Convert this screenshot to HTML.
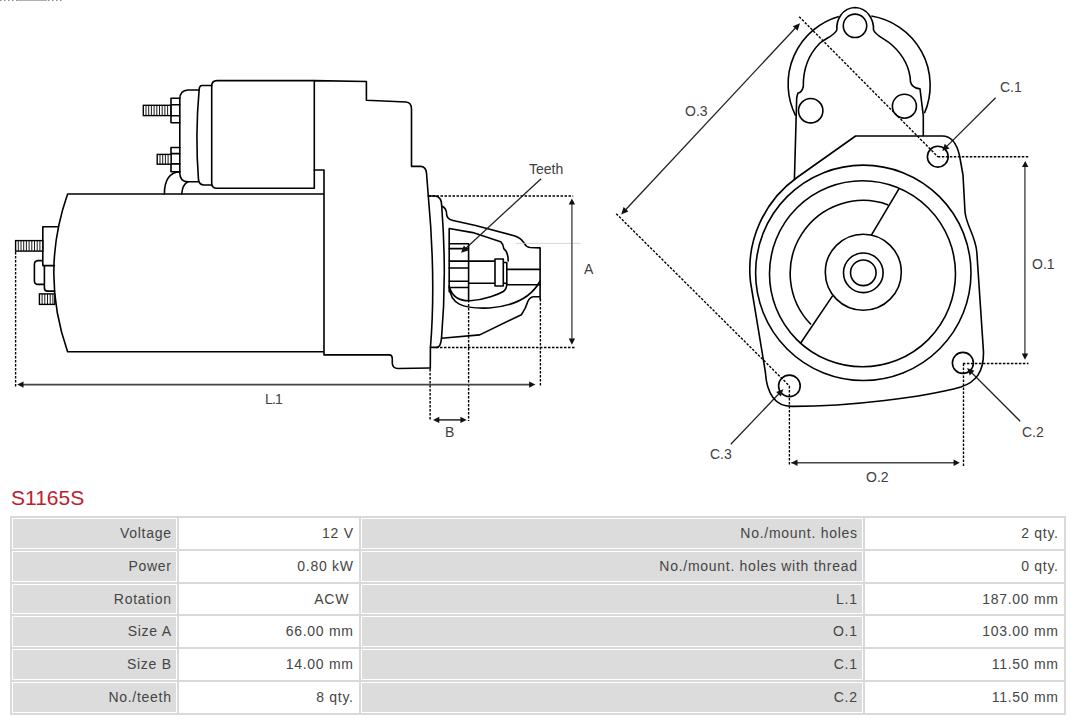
<!DOCTYPE html>
<html><head><meta charset="utf-8">
<style>
html,body{margin:0;padding:0;background:#fff;}
body{width:1080px;height:720px;position:relative;overflow:hidden;font-family:"Liberation Sans",sans-serif;}
svg{position:absolute;left:0;top:0;}
.title{position:absolute;left:11px;top:486px;font-size:21px;letter-spacing:0px;color:#b9212b;line-height:24px;white-space:nowrap;}
.tbl{position:absolute;left:10px;top:516px;width:1056px;height:199px;background:#d9d9d9;}
.c{position:absolute;box-sizing:border-box;border:1px solid #fff;height:31px;font-size:14px;letter-spacing:0.72px;color:#454545;text-align:right;line-height:29px;padding-right:4.3px;white-space:nowrap;}
.l{background:#dcdcdc;}
.v{background:#fff;}
</style></head><body>
<svg width="1080" height="500" viewBox="0 0 1080 500" id="drw">
<g fill="none" stroke="#000" stroke-width="1.6" stroke-linejoin="round" stroke-linecap="round">
<!-- motor body -->
<path d="M67.6,194 H324 M67.6,194 Q40,273 67.6,351.7 H324 M324,170 V354.9 H389.3 Q392.3,355 392.3,359 V363.5 Q392.8,368.5 398,368.5 L430.3,368 M314.3,170 H324"/>
<!-- solenoid main -->
<path d="M313.9,80.6 H217 Q211.7,80.6 211.7,86 V183 Q211.7,188.3 217,188.3 H314.3 V80.6 L366.4,81.5 V100.3 L406,102 Q411.5,102.5 411.5,109 V166.4 H421 Q426,167 426.5,173 L428.3,196 Q436,280 430.4,348 L430.3,368"/>
<!-- solenoid ring -->
<path d="M211.7,85.5 H202 Q199.4,85.6 199.2,89 Q195,135 198.5,180 Q199.5,185 204,185 H211.7"/>
<!-- end cap -->
<path d="M198.8,90 H188 Q179.8,90.5 179.8,99 V173 Q179.8,181.7 188,181.7 H198.8"/>
<!-- nuts -->
<path d="M179.8,98.3 H171 V122.8 H179.8 M171,104.7 H179.8 M171,115.8 H179.8"/>
<path d="M179.8,147.5 H171 V171.7 H179.8 M171,153.6 H179.8 M171,163.9 H179.8"/>
<!-- arches -->
<path d="M164.4,194 C164.4,181 169,172.5 179.8,171.8 M181.7,194 C182.2,188 184,183.5 188,181.7"/>
<!-- left end -->
<path d="M57.8,226.7 H42.8 V265.6 H54.4 M42.8,260.6 H38 Q34.4,260.8 34.4,264.5 V280.8 Q34.4,284.4 38,284.4 H44.4 M44.4,265.6 V288 Q44.4,291.1 47.5,291.1 H54.6"/>
<!-- nose flange -->
<path d="M428.3,196 H435.6 Q441.7,197 441.7,206 Q447,275 441.5,338.3 Q440.5,347.4 436.7,347.4 H430.4"/>
<path d="M441.7,206 Q446.5,208 446.6,214 Q446.8,219 453,220.5 L475.6,225.5 L515,236 Q521,238 524.5,243.5 Q526,247 530,247.5 L540.1,247.9 V299 M441.5,338.3 L479.7,334.9 L521.4,314.7 Q526,308 528,301 Q530,296.7 534,296.7 H540.1"/>
<path d="M449.2,291.7 V228.5 L472.8,232.6 L500.6,241.7 Q503.3,244 503.8,248.6 Q508.2,252 508.2,261"/>
<path d="M449.2,286 C450,304 462,309 489.4,308 C515,306 532,296 540.1,281 M449.2,286 C452,298 460,301 470,300.8 C485,300 499,294 503.3,291.5 Q506.8,289 506.8,283.3"/>
<path d="M449.2,243.75 H468.6 V300 M449.2,248.6 H468.6 M449.2,261.1 H495 M449.2,268 H468.6 M449.2,281.25 H468.6 M449.2,287.5 H468.6 M468.6,283.3 H495 M495,259 H503.3 V286 H495 Z M503.3,262.5 H506.8 V283.3 H503.3 M506.8,269.4 H540.1 M506.8,284.7 H540.1"/>
</g>
<!-- studs -->
<g fill="#fff" stroke="#000" stroke-width="1.4">
<rect x="143.3" y="105.3" width="27.5" height="10.3"/>
<rect x="157.2" y="154.4" width="13.9" height="9.8"/>
<rect x="15.6" y="240.6" width="27.2" height="10.5"/>
<rect x="39.4" y="293.9" width="15.4" height="10.5"/>
</g>
<g stroke="#000" stroke-width="0.9">
<path d="M146,105.3 V115.6 M148.7,105.3 V115.6 M151.4,105.3 V115.6 M154.1,105.3 V115.6 M156.8,105.3 V115.6 M159.5,105.3 V115.6 M162.2,105.3 V115.6 M164.9,105.3 V115.6 M167.6,105.3 V115.6"/>
<path d="M160,154.4 V164.2 M162.7,154.4 V164.2 M165.4,154.4 V164.2 M168.1,154.4 V164.2"/>
<path d="M18.3,240.6 V251.1 M21,240.6 V251.1 M23.7,240.6 V251.1 M26.4,240.6 V251.1 M29.1,240.6 V251.1 M31.8,240.6 V251.1 M34.5,240.6 V251.1 M37.2,240.6 V251.1 M39.9,240.6 V251.1"/>
<path d="M42.1,293.9 V304.4 M44.8,293.9 V304.4 M47.5,293.9 V304.4 M50.2,293.9 V304.4 M52.9,293.9 V304.4"/>
</g>
<!-- dotted dims -->
<g fill="none" stroke="#000" stroke-width="1.4" stroke-dasharray="2.5,1.5">
<path d="M15.6,252 V386.7 M540.4,299 V386.6 M430.1,369 V421 M468.6,300 V421 M428.5,196 H573.2 M436,347.5 H575"/>
<path d="M799.2,16.7 L937.8,156.7 M616.2,213.7 L789.4,385.9 M937.8,156.7 H1028.2 M962.9,363.5 H1028.5 M789.4,385.9 V465 M963.5,363.5 V466"/>
</g>
<path d="M515.7,243.4 H580.5" stroke="#ccc" stroke-width="0.8" fill="none"/>
<path d="M0,0.5 H64" stroke="#8a8a8a" stroke-width="1" stroke-dasharray="1.5,2.5" fill="none"/><path d="M17,0.5 H47" stroke="#b0b0b0" stroke-width="1" fill="none"/>
<!-- arrows -->
<g fill="none" stroke="#444" stroke-width="1.6">
<path d="M20,384.6 H532 M436,419.9 H463.7 M791.3,462.7 H957"/>
</g>
<g fill="none" stroke="#222" stroke-width="1.3">
<path d="M541.1,178.7 L464,250"/>
<path d="M730.8,444.2 L781,391.5 M1020.2,421.2 L969.5,370.5 M995.6,97.8 L944.5,148.6"/>
<path d="M623.5,212 L797.5,25.8"/>
</g>
<g fill="none" stroke="#555" stroke-width="1.5">
<path d="M571.9,202 V341 M1024.9,164 V356.5"/>
</g>
<g fill="#111" stroke="none">
<path d="M17.2,384.6 L23.5,381.4 L23.5,387.8 Z"/>
<path d="M535.4,384.6 L529.1,381.4 L529.1,387.8 Z"/>
<path d="M433,419.9 L439.3,416.7 L439.3,423.1 Z M466.7,419.9 L460.4,416.7 L460.4,423.1 Z"/>
<path d="M571.9,198.6 L568.7,204.6 L575.1,204.6 Z M571.9,344.7 L568.7,338.6 L575.1,338.6 Z"/>
<path d="M1025.2,161 L1022,167 L1028.4,167 Z M1025,359.8 L1021.8,353.6 L1028.2,353.6 Z"/>
<path d="M791.3,462.8 L797.5,459.6 L797.5,466 Z M959.8,462.8 L953.6,459.6 L953.6,466 Z"/>
</g>
<g fill="none" stroke="#000" stroke-width="1.6" stroke-linejoin="round">
<!-- holes -->
<circle cx="855" cy="25.8" r="11.7"/>
<circle cx="810.7" cy="110.7" r="12.2"/>
<circle cx="904.4" cy="106.2" r="12"/>
<circle cx="937.8" cy="156.7" r="10.4"/>
<circle cx="962.9" cy="362.9" r="10.5"/>
<circle cx="789.4" cy="385.9" r="10.8"/>
<!-- ear + outer arc -->
<path d="M795.6,115.6 A70.3,70.3 0 0 1 838.8,16.5"/>
<path d="M871.3,16 A70.3,70.3 0 0 1 924.4,113.3"/>
<path d="M836.9,30 C836,20 842,8 855,7.5 C868,8 874,20 873.5,30"/>
<!-- inner contour -->
<path d="M836.9,30 C834,36 826,38 820,43 C808,55 803,70 803.3,86.7 Q802,92 797.8,93.3 L796.7,97.8 L794.4,180"/>
<path d="M873.5,30 C876,36 884,38 892,45 C904,56 910,68 910.5,82 Q912,88 920,88.9 L923.3,115.6 V136.2"/>
<!-- plate -->
<path d="M855.6,136 L797,177.5 A113,113 0 0 0 750.5,282 L765.3,371.5 C767,398 778,406.5 792,406.4 C850,406.5 925,397 960.8,387 C976,382 983.8,372 983.5,352 L976.8,252 C975.5,236 966.5,226 965,212 L963,175 L959.6,156 C957,144 951,136 942.2,136 Z"/>
<!-- rings -->
<circle cx="863.3" cy="272.8" r="107.7"/>
<circle cx="862.5" cy="273.8" r="93"/>
<circle cx="863.3" cy="272.2" r="38"/>
<circle cx="863.3" cy="272.8" r="19.8"/>
<circle cx="863.3" cy="272.8" r="12.8"/>
<path d="M888.3,204.9 A73,73 0 0 0 811,324.5"/>
<path d="M898.9,188.9 L871.1,235.6 M832.7,295.6 L800.2,343.8"/>
</g>
<g fill="#111" stroke="none"><path d="M461.0,252.8 L468.4,250.5 L463.9,245.6 Z"/><path d="M783.3,389.2 L776.1,392.0 L780.9,396.5 Z"/><path d="M967.1,368.1 L969.7,375.4 L974.4,370.7 Z"/><path d="M942.2,151.1 L949.5,148.5 L944.8,143.8 Z"/><path d="M621.2,214.5 L628.4,211.6 L623.6,207.1 Z"/><path d="M800.0,23.3 L792.8,26.2 L797.6,30.7 Z"/></g><g font-family="Liberation Sans, sans-serif" fill="#404040" font-size="14">
<text x="529" y="173.8">Teeth</text>
<text x="584" y="274.4">A</text>
<text x="265" y="404" letter-spacing="-0.8">L.1</text>
<text x="445" y="436.5">B</text>
<text x="685" y="115.5">O.3</text>
<text x="1000" y="91.5">C.1</text>
<text x="1032" y="269.2">O.1</text>
<text x="1022" y="436.9">C.2</text>
<text x="710" y="459.2">C.3</text>
<text x="866" y="481.7">O.2</text>
</g>

</svg>
<div class="title">S1165S</div>
<div class="tbl" id="tbl">
<div class="c l" style="left:2px;top:2px;height:31px;width:165px">Voltage</div>
<div class="c v" style="left:169px;top:2px;height:31px;width:180px">12 V</div>
<div class="c l" style="left:351px;top:2px;height:31px;width:502px">No./mount. holes</div>
<div class="c v" style="left:855px;top:2px;height:31px;width:199px">2 qty.</div>
<div class="c l" style="left:2px;top:35px;height:31px;width:165px">Power</div>
<div class="c v" style="left:169px;top:35px;height:31px;width:180px">0.80 kW</div>
<div class="c l" style="left:351px;top:35px;height:31px;width:502px">No./mount. holes with thread</div>
<div class="c v" style="left:855px;top:35px;height:31px;width:199px">0 qty.</div>
<div class="c l" style="left:2px;top:68px;height:30px;width:165px">Rotation</div>
<div class="c v" style="left:169px;top:68px;height:30px;width:180px">ACW&nbsp;</div>
<div class="c l" style="left:351px;top:68px;height:30px;width:502px">L.1</div>
<div class="c v" style="left:855px;top:68px;height:30px;width:199px">187.00 mm</div>
<div class="c l" style="left:2px;top:100px;height:31px;width:165px">Size A</div>
<div class="c v" style="left:169px;top:100px;height:31px;width:180px">66.00 mm</div>
<div class="c l" style="left:351px;top:100px;height:31px;width:502px">O.1</div>
<div class="c v" style="left:855px;top:100px;height:31px;width:199px">103.00 mm</div>
<div class="c l" style="left:2px;top:133px;height:31px;width:165px">Size B</div>
<div class="c v" style="left:169px;top:133px;height:31px;width:180px">14.00 mm</div>
<div class="c l" style="left:351px;top:133px;height:31px;width:502px">C.1</div>
<div class="c v" style="left:855px;top:133px;height:31px;width:199px">11.50 mm</div>
<div class="c l" style="left:2px;top:166px;height:31px;width:165px">No./teeth</div>
<div class="c v" style="left:169px;top:166px;height:31px;width:180px">8 qty.</div>
<div class="c l" style="left:351px;top:166px;height:31px;width:502px">C.2</div>
<div class="c v" style="left:855px;top:166px;height:31px;width:199px">11.50 mm</div>
</div>
</body></html>
